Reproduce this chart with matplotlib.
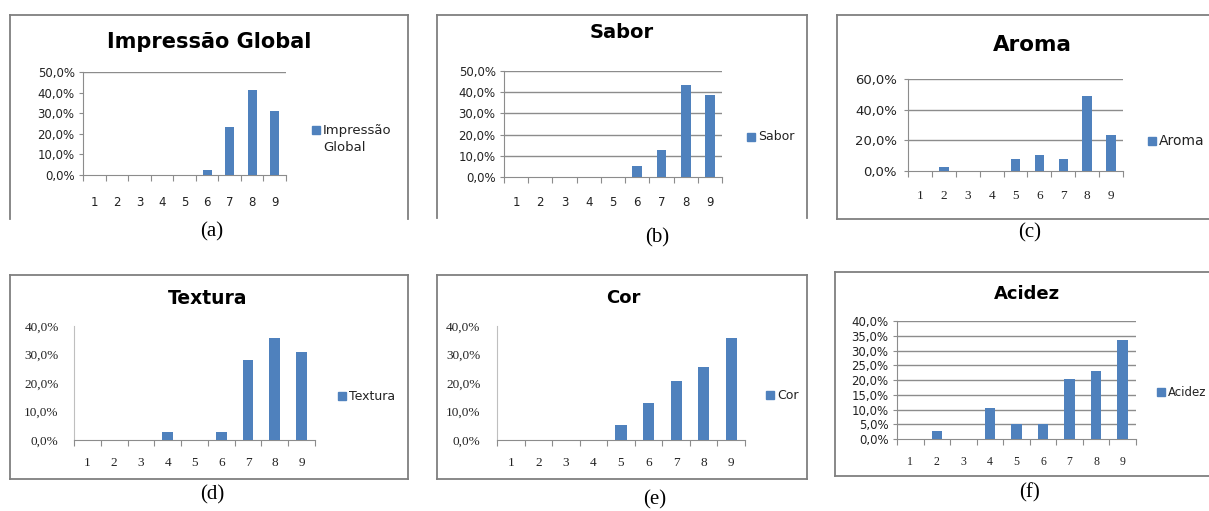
import matplotlib
matplotlib.use("Agg")
import matplotlib.pyplot as plt
from matplotlib.lines import Line2D

W, H = 1209, 511

notas = [1, 2, 3, 4, 5, 6, 7, 8, 9]
impressao = [0, 0, 0, 0, 0, 2.6, 23.3, 41.2, 31.0]
sabor = [0, 0, 0, 0, 0, 5.3, 12.8, 43.6, 38.5]
aroma = [0, 2.6, 0, 0, 7.7, 10.3, 7.7, 48.8, 23.2]
textura = [0, 0, 0, 2.9, 0, 2.9, 28.2, 35.9, 30.8]
cor = [0, 0, 0, 0, 5.3, 13.0, 20.6, 25.6, 35.8]
acidez = [0, 2.7, 0, 10.5, 5.2, 5.2, 20.3, 23.0, 33.4]

AZUL = "#4F81BD"
CINZA = "#8C8C8C"
SANS = "DejaVu Sans"
SERIF = "Liberation Serif"

fig = plt.figure(figsize=(W / 100, H / 100), dpi=100)


def px_axes(l, t, r, b):
    return fig.add_axes([l / W, 1 - b / H, (r - l) / W, (b - t) / H])


def fx(x):
    return x / W


def fy(y):
    return 1 - y / H


def moldura(l, t, r, b, lados):
    # moldura cinza de cada grafico (alguns lados cortados no original)
    seg = {"l": ([l, l], [t, b]), "r": ([r, r], [t, b]),
           "t": ([l, r], [t, t]), "b": ([l, r], [b, b])}
    for k in lados:
        xs, ys = seg[k]
        fig.add_artist(Line2D([fx(v) for v in xs], [fy(v) for v in ys],
                              color="#7F7F7F", lw=1.3))


def grafico(box, valores, titulo, tpos, ymax, ystep, grade, legpos, letra, lpos,
            xfont=SANS, yfont=SANS, legenda=None, yticks_len=3, ypad=3,
            ysize=8.5, xpad=14, legsize=8.5):
    ax = px_axes(*box)
    ax.bar(notas, valores, width=0.4, color=AZUL, zorder=3)
    ax.set_xlim(0.5, 9.5)
    ax.set_ylim(0, ymax)
    ticks = [i * ystep for i in range(int(round(ymax / ystep)) + 1)]
    ax.set_yticks(ticks)
    ax.set_yticklabels([("%.1f%%" % v).replace(".", ",") for v in ticks],
                       fontsize=ysize, family=yfont, color="#222222")
    ax.set_xticks([i + 0.5 for i in range(0, 10)])
    ax.set_xticklabels([])
    ax.set_xticks(notas, minor=True)
    ax.set_xticklabels([str(n) for n in notas], minor=True, fontsize=ysize,
                       family=xfont, color="#222222")
    ax.tick_params(axis="x", which="major", length=4, color=CINZA, direction="out")
    ax.tick_params(axis="x", which="minor", length=0, pad=xpad)
    ax.tick_params(axis="y", length=yticks_len, color=CINZA, pad=ypad)
    for s in ["top", "right"]:
        ax.spines[s].set_visible(False)
    ax.spines["left"].set_color("#BFBFBF" if yticks_len == 0 else CINZA)
    ax.spines["bottom"].set_color(CINZA)
    if grade == "all":
        for v in ticks[1:]:
            ax.axhline(v, color=CINZA, lw=1, zorder=1)
    elif grade == "top":
        ax.axhline(ymax, color=CINZA, lw=1, zorder=1)
    ax.patch.set_alpha(0)

    fig.text(fx(tpos[0]), fy(tpos[1]), titulo, ha="center", va="center",
             fontsize=tpos[2], fontweight="bold", family=SANS)
    # legenda do Excel: quadrado azul + texto
    lx, ly = legpos
    fig.add_artist(Line2D([fx(lx + 4)], [fy(ly)], marker="s", markersize=6,
                          color=AZUL, linestyle="none"))
    texto = legenda or titulo
    linhas = texto.count("\n")
    fig.text(fx(lx + 11), fy(ly + 8.5 * linhas), texto, ha="left", va="center",
             fontsize=legsize, family=SANS, color="#222222", linespacing=1.4)
    fig.text(fx(lpos[0]), fy(lpos[1]), letra, ha="center", va="center",
             fontsize=15, family=SERIF)
    return ax


moldura(10, 15, 408, 219, "lrt")
grafico((83, 72, 286, 175), impressao, "Impressão Global", (209, 42, 15),
        50, 10, "top", (312, 130), "(a)", (212, 232),
        legenda="Impressão\nGlobal", legsize=9.5, xpad=15)

moldura(437, 15, 807, 218, "lrt")
grafico((504, 71, 722, 177), sabor, "Sabor", (622, 32, 14),
        50, 10, "all", (747, 137), "(b)", (657, 238), legsize=9)

moldura(837, 15, 1215, 219, "ltb")
grafico((908, 79, 1123, 171), aroma, "Aroma", (1032, 45, 15.5),
        60, 20, "all", (1148, 141), "(c)", (1030, 233), xfont=SERIF,
        ysize=9.5, legsize=10, ypad=5)

moldura(10, 275, 408, 479, "lrtb")
grafico((74, 326, 315, 440), textura, "Textura", (208, 298, 13.5),
        40, 10, "none", (338, 396), "(d)", (212, 495),
        xfont=SERIF, yfont=SERIF, yticks_len=0, ypad=11, ysize=9.5,
        xpad=12, legsize=9)

moldura(437, 275, 807, 479, "lrtb")
grafico((497, 326, 745, 440), cor, "Cor", (623, 298, 13),
        40, 10, "none", (766, 395), "(e)", (655, 500),
        xfont=SERIF, yfont=SERIF, yticks_len=0, ypad=12, ysize=9.5,
        xpad=12, legsize=9)

moldura(835, 272, 1215, 476, "ltb")
grafico((897, 321, 1136, 439), acidez, "Acidez", (1027, 294, 13),
        40, 5, "all", (1157, 392), "(f)", (1030, 493), xfont=SERIF,
        xpad=12, legsize=8.5)

fig.savefig("out.png", dpi=100)
